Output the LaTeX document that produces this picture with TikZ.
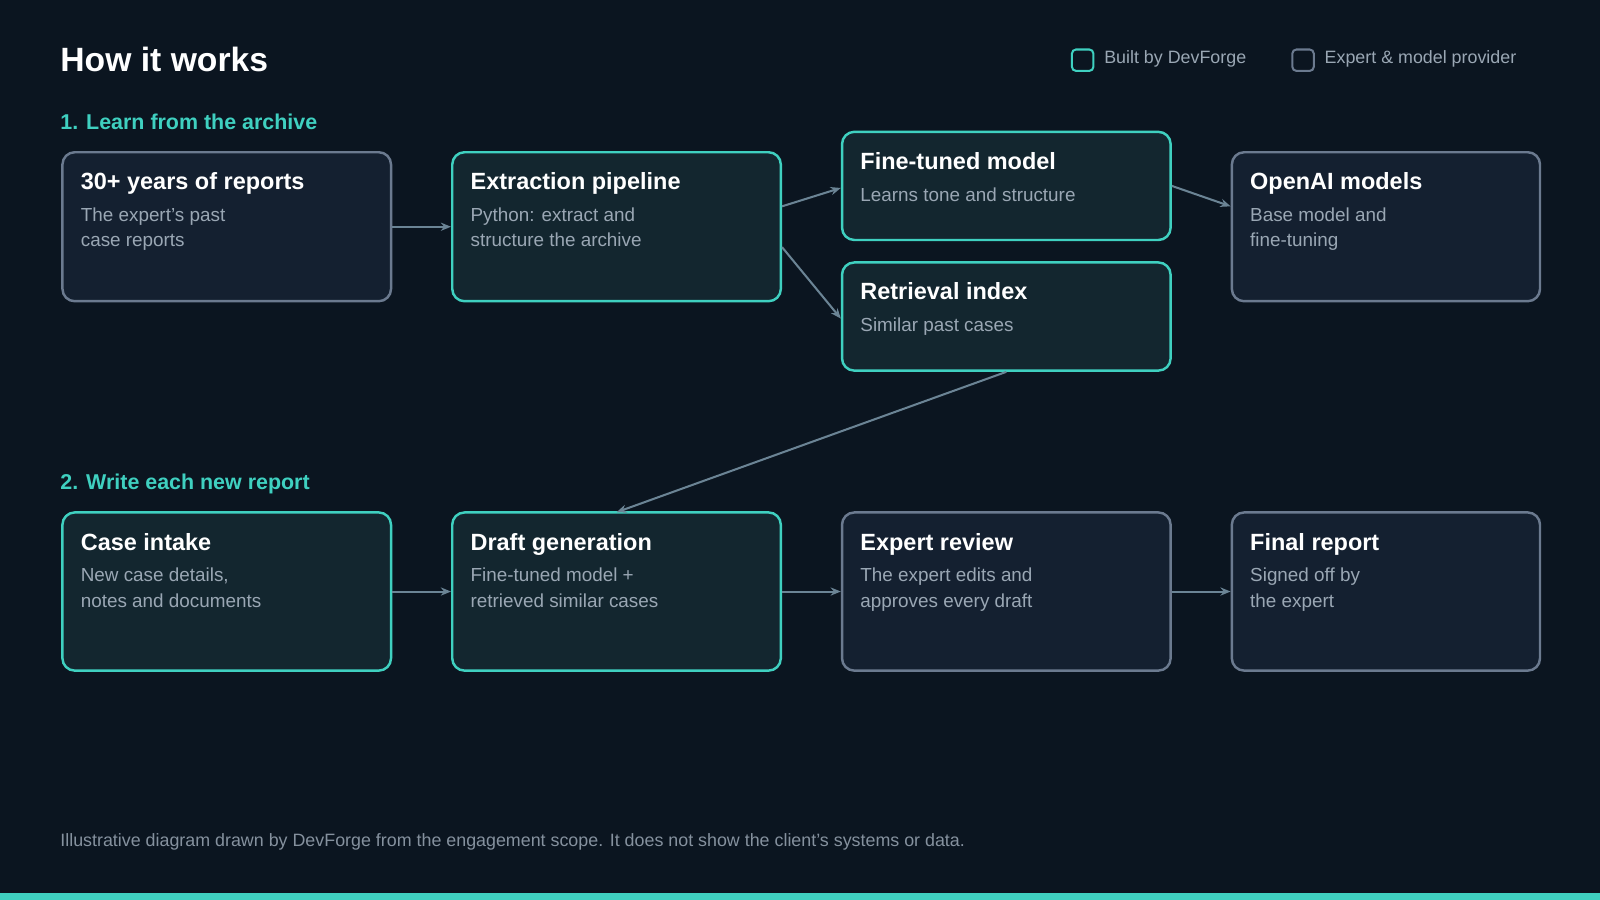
\documentclass[tikz,border=0pt]{standalone}
\usepackage{fontspec}
\setmainfont{Liberation Sans}
\usetikzlibrary{arrows.meta}
\definecolor{bg}{HTML}{0B1520}
\definecolor{teal}{HTML}{3FD0C0}
\definecolor{gborder}{HTML}{6B7A8F}
\definecolor{tfill}{HTML}{13262F}
\definecolor{gfill}{HTML}{142030}
\definecolor{body}{HTML}{9AA7B4}
\definecolor{arr}{HTML}{6B8495}
\begin{document}
\begin{tikzpicture}[x=1pt,y=-1pt,
  tbox/.style={draw=teal,fill=tfill,line width=2.4pt,rounded corners=12pt},
  gbox/.style={draw=gborder,fill=gfill,line width=2.4pt,rounded corners=12pt},
  ttl/.style={anchor=base west,text=white,font=\fontsize{23}{28}\selectfont\bfseries,inner sep=0},
  bdy/.style={anchor=base west,text=body,font=\fontsize{18.5}{25}\selectfont,inner sep=0},
  con/.style={draw=arr,line width=2pt,-{Stealth[length=10pt,width=8pt]}},
  hd/.style={anchor=base west,text=teal,font=\fontsize{21}{25}\selectfont\bfseries,inner sep=0}]
\fill[bg] (0,0) rectangle (1568,882);
\useasboundingbox (0,0) rectangle (1568,882);
\fill[teal] (0,875) rectangle (1568,882);
\node[anchor=base west,text=white,font=\fontsize{33}{38}\selectfont\bfseries,inner sep=0] (title) at (59,70) {How it works};
% legend
\node[draw=teal,line width=2pt,rounded corners=4pt,minimum size=21pt,inner sep=0] (l1) at (1061,59) {};
\node[anchor=west,text=body,font=\fontsize{17.5}{20}\selectfont,inner sep=0] (l1t) at (1082,58) {Built by DevForge};
\node[draw=gborder,line width=2pt,rounded corners=4pt,minimum size=21pt,inner sep=0] (l2) at (1277,59) {};
\node[anchor=west,text=body,font=\fontsize{17.5}{20}\selectfont,inner sep=0] (l2t) at (1298,58) {Expert \& model provider};
\node[hd] (h1) at (59,127) {1. Learn from the archive};
\node[hd] (h2) at (59,480) {2. Write each new report};
% boxes
\newcommand{\mybox}[9]{%
 \node[#2,minimum width=#5pt-#3pt,minimum height=#6pt-#4pt,anchor=north west,inner sep=0] (#1) at (#3,#4) {};
 \node[ttl] (#1t) at (#3+19,#4+38) {#7};
 \node[bdy] (#1b) at (#3+19,#4+69) {#8};
 \node[bdy] (#1c) at (#3+19,#4+94) {#9};}
\mybox{a}{gbox}{60}{148}{382}{294}{30+ years of reports}{The expert's past}{case reports}
\mybox{b}{tbox}{442}{148}{764}{294}{Extraction pipeline}{Python: extract and}{structure the archive}
\mybox{c}{tbox}{824}{128}{1146}{234}{Fine-tuned model}{Learns tone and structure}{}
\mybox{d}{tbox}{824}{256}{1146}{362}{Retrieval index}{Similar past cases}{}
\mybox{e}{gbox}{1206}{148}{1508}{294}{OpenAI models}{Base model and}{fine-tuning}
\mybox{f}{tbox}{60}{501}{382}{656}{Case intake}{New case details,}{notes and documents}
\mybox{g}{tbox}{442}{501}{764}{656}{Draft generation}{Fine-tuned model +}{retrieved similar cases}
\mybox{h}{gbox}{824}{501}{1146}{656}{Expert review}{The expert edits and}{approves every draft}
\mybox{i}{gbox}{1206}{501}{1508}{656}{Final report}{Signed off by}{the expert}
% connectors
\draw[con] ([yshift=20pt]b.east) -- ([yshift=-2pt]c.west);
\draw[con] ([yshift=-20pt]b.east) -- ([yshift=-2pt]d.west);
\draw[con] (a.east) -- (b.west);
\draw[con] (c.east) -- ([yshift=20pt]e.west);
\draw[con] (d.south) -- ([yshift=-1pt]g.north);
\draw[con] (f.east) -- (g.west);
\draw[con] (g.east) -- (h.west);
\draw[con] (h.east) -- (i.west);
\node[anchor=base west,text=body!85!bg,font=\fontsize{17.5}{20}\selectfont,inner sep=0] (foot) at (59,830) {Illustrative diagram drawn by DevForge from the engagement scope. It does not show the client's systems or data.};
\end{tikzpicture}
\end{document}
